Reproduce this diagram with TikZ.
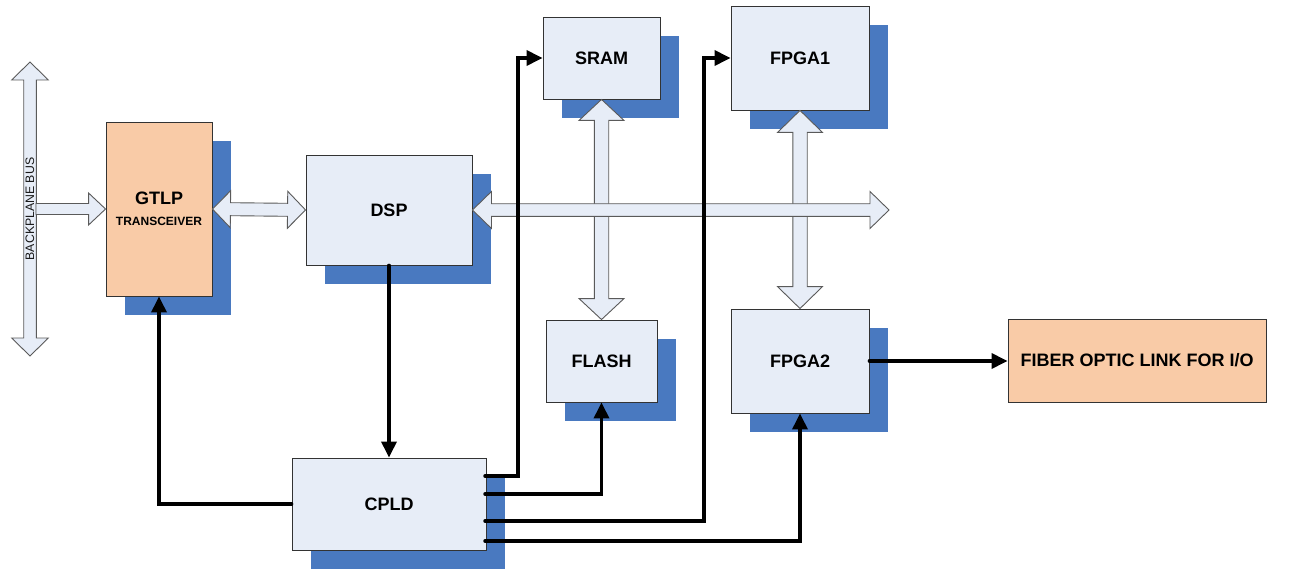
\documentclass[tikz,border=0pt]{standalone}
\usepackage{fontspec}
\setmainfont{Liberation Sans}
\usetikzlibrary{arrows.meta,calc,shadows}

\definecolor{boxfill}{HTML}{E7EDF7}
\definecolor{shadowblue}{HTML}{4979C0}
\definecolor{peach}{HTML}{F9CBA7}
\definecolor{busline}{HTML}{5A5A5A}

\tikzset{
  blockbox/.style={draw=black!80, line width=0.9pt, fill=boxfill, inner sep=0pt,
    font=\bfseries\fontsize{18}{21}\selectfont},
  shadowed/.style={drop shadow={shadow xshift=19pt, shadow yshift=-19pt, opacity=1, fill=shadowblue}},
  wire/.style={line width=3.5pt, line cap=round, -{Triangle[length=16pt,width=15pt]}},
  bigarrow/.style={draw=busline, line width=0.9pt, fill=boxfill, line join=miter},
}

% wide bus arrows: from, to, head half width, shaft half width, head length
\newcommand{\bigdarrow}[5]{%
  \draw[bigarrow] let \p1=(#1), \p2=(#2),
    \n1={atan2(\y2-\y1,\x2-\x1)}, \n2={veclen(\x2-\x1,\y2-\y1)} in
    [shift={(\p1)}, rotate=\n1]
    (0pt,0pt) -- (#5pt,#3pt) -- (#5pt,#4pt) -- (\n2*1pt-#5pt,#4pt) -- (\n2*1pt-#5pt,#3pt)
    -- (\n2*1pt,0pt) -- (\n2*1pt-#5pt,-#3pt) -- (\n2*1pt-#5pt,-#4pt) -- (#5pt,-#4pt)
    -- (#5pt,-#3pt) -- cycle;}
\newcommand{\bigsarrow}[5]{%
  \draw[bigarrow] let \p1=(#1), \p2=(#2),
    \n1={atan2(\y2-\y1,\x2-\x1)}, \n2={veclen(\x2-\x1,\y2-\y1)} in
    [shift={(\p1)}, rotate=\n1]
    (0pt,#4pt) -- (\n2*1pt-#5pt,#4pt) -- (\n2*1pt-#5pt,#3pt)
    -- (\n2*1pt,0pt) -- (\n2*1pt-#5pt,-#3pt) -- (\n2*1pt-#5pt,-#4pt) -- (0pt,-#4pt)
    -- cycle;}

\begin{document}
\begin{tikzpicture}[x=1pt, y=-1pt]
\useasboundingbox (0,0) rectangle (1292,580);

% blocks
\node[blockbox, shadowed, fill=peach, minimum width=106pt, minimum height=174pt, align=center]
  (gtlp) at (159,209) {GTLP\\\fontsize{12}{21}\selectfont TRANSCEIVER};
\node[blockbox, shadowed, minimum width=166pt, minimum height=110pt] (dsp)   at (389,210)   {DSP};
\node[blockbox, shadowed, minimum width=117pt, minimum height=82pt]  (sram)  at (601.5,58)  {SRAM};
\node[blockbox, shadowed, minimum width=138pt, minimum height=104pt] (fpga1) at (800,58)    {FPGA1};
\node[blockbox, shadowed, minimum width=111pt, minimum height=82pt]  (flash) at (601.5,361) {FLASH};
\node[blockbox, shadowed, minimum width=138pt, minimum height=104pt] (fpga2) at (800,361)   {FPGA2};
\node[blockbox, shadowed, minimum width=194pt, minimum height=92pt]  (cpld)  at (389,504)   {CPLD};
\node[blockbox, fill=peach, minimum width=258pt, minimum height=83pt] (fiber) at (1137,360.5)
  {FIBER OPTIC LINK FOR I/O};

% backplane bus
\coordinate (bpTop) at (30,62);
\coordinate (bpBot) at (30,356);
\coordinate (bpTap) at (36,209);
\bigdarrow{bpTop}{bpBot}{18.3}{6.3}{18}
\node[rotate=90, text=black!90, font=\fontsize{12.3}{14}\selectfont] (bpLabel) at (30,209) {BACKPLANE BUS};
\bigsarrow{bpTap}{gtlp.west}{16}{5.5}{17}

% data buses
\coordinate (busEnd) at (889,210);
\bigdarrow{gtlp.east}{dsp.west}{18.5}{6.5}{18}
\bigdarrow{sram.south}{flash.north}{22.5}{7.2}{21}
\bigdarrow{fpga1.south}{fpga2.north}{22.5}{7.2}{22}
\bigdarrow{dsp.east}{busEnd}{18.5}{6.3}{19}

% control lines
\coordinate (cpldA) at (485,476);
\coordinate (cpldB) at (485,494);
\coordinate (cpldC) at (485,521);
\coordinate (cpldD) at (485,541);
\draw[wire] (dsp.south) -- (cpld.north);
\draw[wire] (cpld.west) -| (gtlp.south);
\draw[wire] (cpldA) -- (518,476) |- (sram.west);
\draw[wire] (cpldB) -| (flash.south);
\draw[wire] (cpldC) -- (704,521) |- (fpga1.west);
\draw[wire] (cpldD) -| (fpga2.south);
\draw[wire] (fpga2.east) -- (fpga2.east -| fiber.west);

\end{tikzpicture}
\end{document}
